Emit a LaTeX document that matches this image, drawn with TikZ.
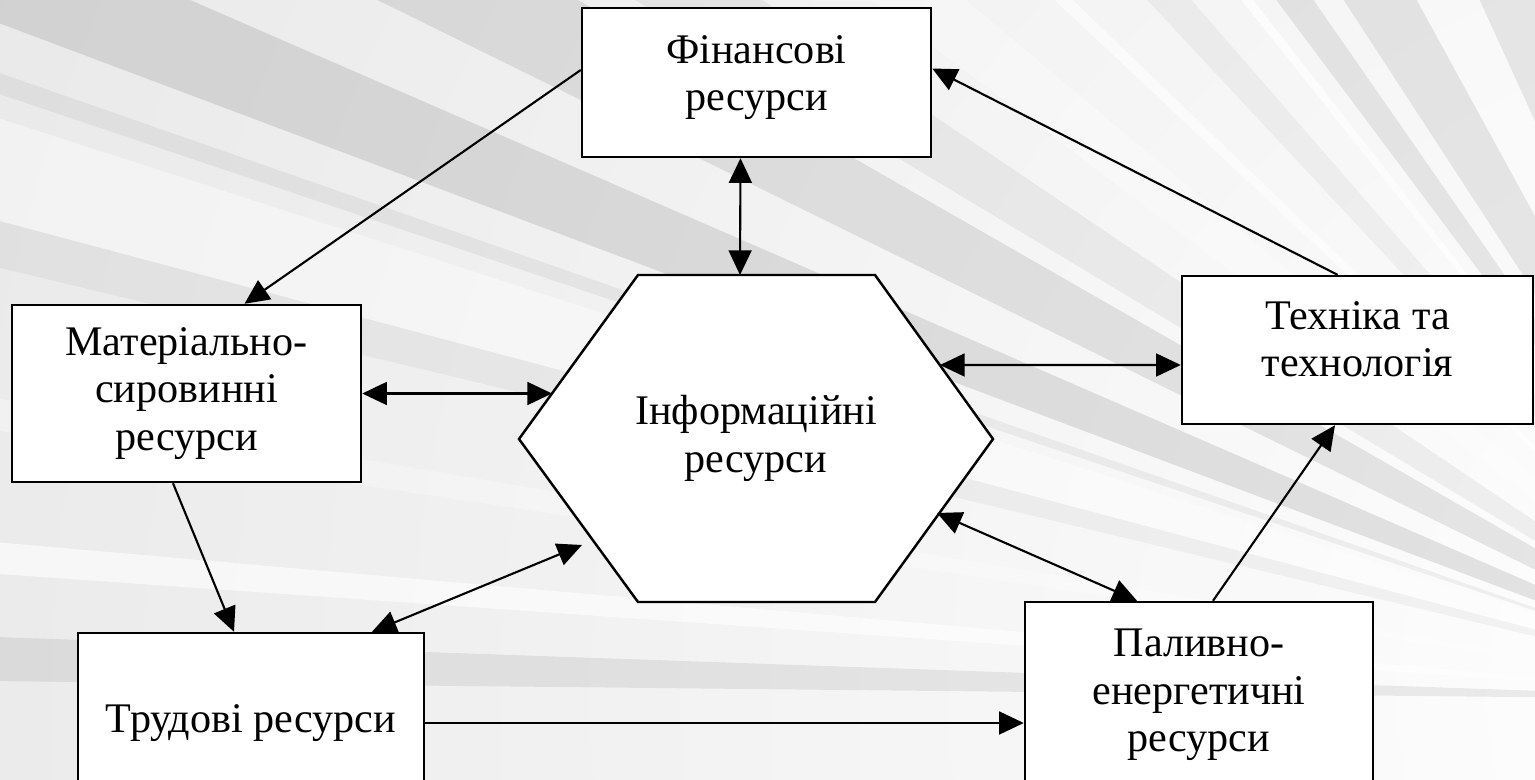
\documentclass[tikz,border=0pt]{standalone}
\usepackage{fontspec}
\setmainfont{Liberation Serif}
\usetikzlibrary{arrows.meta}
\tikzset{
  res/.style={rectangle, draw, fill=white, line width=0.7pt, align=center,
    font=\fontsize{12pt}{13.5pt}\selectfont},
  arr/.style={-{Triangle[length=7pt,width=6.5pt]}, line width=0.6pt},
  darr/.style={{Triangle[length=7pt,width=6.5pt]}-{Triangle[length=7pt,width=6.5pt]}, line width=0.6pt}
}
\begin{document}
\begin{tikzpicture}
  \useasboundingbox (0,0) rectangle (15.35,7.79);
  % Background rays
  \begin{scope}
    \clip (0,0) rectangle (15.35,7.79);
    \coordinate (F) at (18.0,0.79);
    \shade[inner color=white, outer color=gray!35] (F) circle (40);
    \foreach \a/\b/\o in {156.5/159.4/0.1, 150.2/153.8/0.09, 160.8/161.4/0.05, 165.1/166.5/0.04,
        178.0/179.4/0.07, 124.8/126.8/0.08, 118.7/123.1/0.08, 146/149/0.05, 110.7/114.6/0.07, 131/133/0.04}
      \fill[black, opacity=\o] (F) -- +(\a:30) -- +(\b:30) -- cycle;
    \foreach \a/\b/\o in {162.1/165.1/0.4, 175.0/176.0/0.6, 136.1/136.8/0.6, 128.0/128.6/0.7,
        170.5/171.5/0.3, 140/143/0.3, 114.6/118.7/0.3}
      \fill[white, opacity=\o] (F) -- +(\a:30) -- +(\b:30) -- cycle;
  \end{scope}
  % Hexagon
  \draw[fill=white, line width=0.7pt] (6.38,5.04) -- (8.75,5.04) -- (9.93,3.40) -- (8.75,1.77)
    -- (6.38,1.77) -- (5.19,3.40) -- cycle;
  \node (info) [align=center, font=\fontsize{12pt}{13.5pt}\selectfont] at (7.56,3.405) {Інформаційні\\ресурси};
  \coordinate (h-n) at (7.40,5.04);
  \coordinate (h-ne) at (9.40,4.14);
  \coordinate (h-nw) at (5.52,3.855);
  \coordinate (h-sw) at (5.82,2.34);
  \coordinate (h-se) at (9.37,2.66);
  % Nodes
  \node (fin) [res, minimum width=3.49cm, minimum height=1.49cm, text depth=1.9mm] at (7.565,6.965) {Фінансові\\ресурси};
  \node (tech) [res, minimum width=3.51cm, minimum height=1.48cm, text depth=2.2mm] at (13.575,4.29) {Техніка та\\технологія};
  \node (mat) [res, minimum width=3.49cm, minimum height=1.77cm] at (1.865,3.855) {Матеріально-\\сировинні\\ресурси};
  \node (trud) [res, minimum width=3.46cm, minimum height=1.80cm] at (2.51,0.56) {Трудові ресурси};
  \node (pal) [res, minimum width=3.48cm, minimum height=1.86cm] at (11.99,0.84) {Паливно-\\енергетичні\\ресурси};
  % Arrows
  \draw[arr] ([yshift=1.25mm]fin.west) -- ([xshift=5.8mm]mat.north);
  \draw[darr] ([xshift=-1.6mm]fin.south) -- (h-n);
  \draw[arr] ([xshift=-2mm]tech.north) -- ([yshift=1.4mm]fin.east);
  \draw[darr] ([yshift=-1.5mm]tech.west) -- (h-ne);
  \draw[darr] (mat.east) -- (h-nw);
  \draw[arr] ([xshift=-1.35mm]mat.south) -- ([xshift=-1.7mm]trud.north);
  \draw[darr] ([xshift=12.1mm]trud.north) -- (h-sw);
  \draw[darr] (h-se) -- ([xshift=-6.2mm]pal.north);
  \draw[arr] ([xshift=1.4mm]pal.north) -- ([xshift=-2.25mm]tech.south);
  \draw[arr] (trud.east) -- (trud.east -| pal.west);
\end{tikzpicture}
\end{document}
